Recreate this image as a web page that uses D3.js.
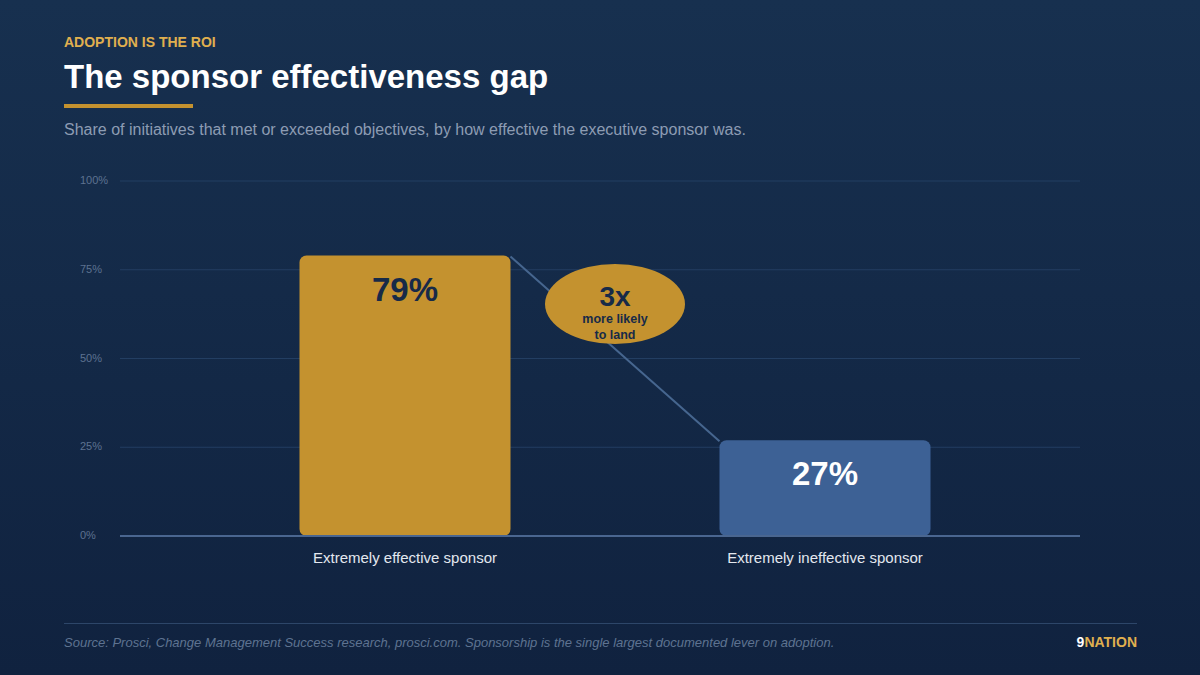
<!DOCTYPE html>
<meta charset="utf-8">
<script src="https://d3js.org/d3.v7.min.js"></script>
<style>
  body { margin: 0; background: #12253f; }
  svg text { font-family: "Liberation Sans", Arial, sans-serif; }
</style>
<div id="chart"></div>
<script>

// data
var categories = ["Extremely effective sponsor", "Extremely ineffective sponsor"];
var values = [79, 27];
var barColors = ["#c4922f", "#3d6195"];
var labelColors = ["#172a48", "#ffffff"];
var yTicks = [0, 25, 50, 75, 100];

var width = 1200,
    height = 675;

var svg = d3.select("#chart")
  .append("svg")
    .attr("width", width)
    .attr("height", height);

// background gradient
var defs = svg.append("defs");
var grad = defs.append("linearGradient")
  .attr("id", "bg")
  .attr("x1", 0).attr("y1", 0)
  .attr("x2", 0).attr("y2", 1);
grad.append("stop").attr("offset", "0%").attr("stop-color", "#17304f");
grad.append("stop").attr("offset", "100%").attr("stop-color", "#10223f");

svg.append("rect")
  .attr("width", width)
  .attr("height", height)
  .attr("fill", "url(#bg)");

// header
svg.append("text")
  .attr("x", 64).attr("y", 47)
  .style("font-size", "14px")
  .style("font-weight", "bold")
  .attr("fill", "#e0b04f")
  .text("ADOPTION IS THE ROI");

svg.append("text")
  .attr("x", 64).attr("y", 88)
  .style("font-size", "33px")
  .style("font-weight", "bold")
  .attr("fill", "#ffffff")
  .text("The sponsor effectiveness gap");

svg.append("rect")
  .attr("x", 64).attr("y", 104)
  .attr("width", 129).attr("height", 4)
  .attr("fill", "#c4922f");

svg.append("text")
  .attr("x", 64).attr("y", 135)
  .style("font-size", "16px")
  .attr("fill", "#8d9cb3")
  .text("Share of initiatives that met or exceeded objectives, by how effective the executive sponsor was.");

// scales
var plotLeft = 120, plotRight = 1080;

var y = d3.scaleLinear()
  .domain([0, 100])
  .range([536, 181]);

var x = d3.scaleBand()
  .domain(categories)
  .range([195, 1035])
  .padding(0);

var barWidth = 211;

// gridlines + tick labels
var grid = svg.append("g");
grid.selectAll("line")
  .data(yTicks.filter(function(d) { return d > 0; }))
  .enter()
  .append("line")
    .attr("x1", plotLeft)
    .attr("x2", plotRight)
    .attr("y1", function(d) { return y(d); })
    .attr("y2", function(d) { return y(d); })
    .attr("stroke", "#233e62")
    .attr("stroke-width", 1);

grid.selectAll("text")
  .data(yTicks)
  .enter()
  .append("text")
    .attr("x", 80)
    .attr("y", function(d) { return y(d) + 3; })
    .style("font-size", "11px")
    .attr("fill", "#5d7290")
    .text(function(d) { return d + "%"; });

// bars
svg.append("g")
  .selectAll("rect")
  .data(values)
  .enter()
  .append("rect")
    .attr("x", function(d, i) { return x(categories[i]) + x.bandwidth() / 2 - barWidth / 2; })
    .attr("y", function(d) { return y(d); })
    .attr("width", barWidth)
    .attr("height", function(d) { return y(0) - y(d); })
    .attr("rx", 7)
    .attr("fill", function(d, i) { return barColors[i]; });

// baseline
svg.append("line")
  .attr("x1", plotLeft)
  .attr("x2", plotRight)
  .attr("y1", y(0))
  .attr("y2", y(0))
  .attr("stroke", "#4a6690")
  .attr("stroke-width", 2);

// value labels
svg.append("g")
  .selectAll("text")
  .data(values)
  .enter()
  .append("text")
    .attr("x", function(d, i) { return x(categories[i]) + x.bandwidth() / 2; })
    .attr("y", function(d) { return y(d) + 45; })
    .attr("text-anchor", "middle")
    .style("font-size", "33px")
    .style("font-weight", "bold")
    .attr("fill", function(d, i) { return labelColors[i]; })
    .text(function(d) { return d + "%"; });

// category labels
svg.append("g")
  .selectAll("text")
  .data(categories)
  .enter()
  .append("text")
    .attr("x", function(d) { return x(d) + x.bandwidth() / 2; })
    .attr("y", 563)
    .attr("text-anchor", "middle")
    .style("font-size", "15px")
    .attr("fill", "#e3e8ef")
    .text(function(d) { return d; });

// connector from top of bar 1 to top of bar 2
var x0 = x(categories[0]) + x.bandwidth() / 2 + barWidth / 2,
    x1 = x(categories[1]) + x.bandwidth() / 2 - barWidth / 2;
svg.append("line")
  .attr("x1", x0).attr("y1", y(values[0]) + 1)
  .attr("x2", x1).attr("y2", y(values[1]) + 1)
  .attr("stroke", "#46668f")
  .attr("stroke-width", 2);

// ratio badge
var ratio = Math.round(values[0] / values[1]);
var badge = svg.append("g").attr("transform", "translate(615,304)");
badge.append("ellipse")
  .attr("rx", 70).attr("ry", 40)
  .attr("fill", "#c4922f");
badge.append("text")
  .attr("y", 2)
  .attr("text-anchor", "middle")
  .style("font-size", "28px")
  .style("font-weight", "bold")
  .attr("fill", "#172a48")
  .text(ratio + "x");
badge.append("text")
  .attr("y", 19)
  .attr("text-anchor", "middle")
  .style("font-size", "12.5px")
  .style("font-weight", "bold")
  .attr("fill", "#172a48")
  .text("more likely");
badge.append("text")
  .attr("y", 35)
  .attr("text-anchor", "middle")
  .style("font-size", "12.5px")
  .style("font-weight", "bold")
  .attr("fill", "#172a48")
  .text("to land");

// footer
svg.append("line")
  .attr("x1", 64).attr("x2", 1137)
  .attr("y1", 623.5).attr("y2", 623.5)
  .attr("stroke", "#2d4669")
  .attr("stroke-width", 1);

svg.append("text")
  .attr("x", 64).attr("y", 647)
  .style("font-size", "13px")
  .style("font-style", "italic")
  .attr("fill", "#5e7391")
  .text("Source: Prosci, Change Management Success research, prosci.com. Sponsorship is the single largest documented lever on adoption.");

var brand = svg.append("text")
  .attr("x", 1137).attr("y", 647)
  .attr("text-anchor", "end")
  .style("font-size", "14px")
  .style("font-weight", "bold");
brand.append("tspan").attr("fill", "#ffffff").text("9");
brand.append("tspan").attr("fill", "#e0b04f").text("NATION");

</script>
